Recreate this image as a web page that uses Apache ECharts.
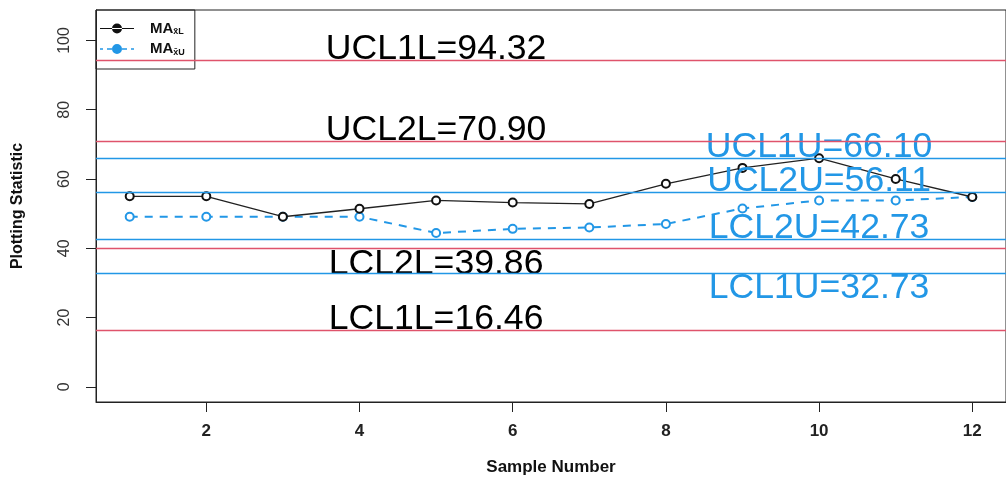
<!DOCTYPE html>
<html>
<head>
<meta charset="utf-8">
<script src="https://cdn.jsdelivr.net/npm/echarts@6/dist/echarts.min.js"></script>
<style>
  html, body { margin: 0; padding: 0; background: #fff; }
  #main { width: 1006px; height: 481px; }
</style>
</head>
<body>
<div id="main"></div>
<script>
// sample numbers and moving averages
var sampleNo = [1, 2, 3, 4, 5, 6, 7, 8, 9, 10, 11, 12];
var maL = [55.0, 55.0, 49.1, 51.4, 53.8, 53.2, 52.8, 58.6, 63.2, 66.0, 60.0, 54.8];
var maU = [49.1, 49.1, 49.1, 49.1, 44.4, 45.6, 46.0, 47.0, 51.5, 53.8, 53.8, 54.8];

// control limits
var limNamesL = ['UCL1L', 'UCL2L', 'LCL2L', 'LCL1L'];
var limValsL = [94.32, 70.90, 39.86, 16.46];
var limNamesU = ['UCL1U', 'UCL2U', 'LCL2U', 'LCL1U'];
var limValsU = [66.10, 56.11, 42.73, 32.73];

var xTicks = [2, 4, 6, 8, 10, 12];
var yTicks = [0, 20, 40, 60, 80, 100];

var RED = '#DF536B', BLUE = '#2297E6';
var FONT = '"Liberation Sans", Arial, sans-serif';
var belowLabels = ['LCL2L', 'LCL1U'];

function zip(xs, ys) {
  return xs.map(function (x, i) { return [x, ys[i]]; });
}

function limitLabels(names, vals, xAt, color) {
  return names.map(function (n, i) {
    var below = belowLabels.indexOf(n) >= 0;
    return {
      name: n,
      value: [xAt, vals[i]],
      label: {
        position: below ? 'bottom' : 'top',
        distance: 0,
        offset: below ? [0, -3] : [0, 7],
        color: color
      }
    };
  });
}

var chart = echarts.init(document.getElementById('main'), null, { renderer: 'canvas' });

var option = {
  backgroundColor: '#fff',
  animation: false,
  textStyle: { fontFamily: FONT },
  grid: {
    left: 96, top: 10, width: 916, height: 392,
    show: true, borderColor: '#222', borderWidth: 1, containLabel: false
  },
  legend: {
    left: 96, top: 10,
    orient: 'vertical',
    padding: [11, 10, 12, 4],
    itemGap: 5,
    itemWidth: 34, itemHeight: 10,
    borderColor: '#222', borderWidth: 1,
    backgroundColor: 'transparent',
    data: [
      { name: 'L', icon: 'path://M0,4.4h34v1.2h-34z M12,5a5,5 0 1,0 10,0a5,5 0 1,0 -10,0z' },
      { name: 'U', icon: 'path://M0,4.3h3v1.4h-3z M7,4.3h5v1.4h-5z M12,5a5,5 0 1,0 10,0a5,5 0 1,0 -10,0z M22,4.3h5v1.4h-5z M31,4.3h3v1.4h-3z' }
    ],
    itemStyle: { borderWidth: 0 },
    formatter: function (n) {
      return '{b|MA}{s|x\u0304' + n + '}';
    },
    textStyle: {
      rich: {
        b: { fontSize: 15, fontWeight: 'bold', color: '#111', padding: [0, 0, 0, 11], fontFamily: FONT },
        s: { fontSize: 9, fontWeight: 'bold', color: '#111', padding: [7, 0, 0, 0], fontFamily: FONT }
      }
    }
  },
  xAxis: {
    type: 'value',
    min: 0.56, max: 12.44,
    name: 'Sample Number',
    nameLocation: 'middle',
    nameGap: 57,
    nameTextStyle: { fontSize: 17, fontWeight: 'bold', color: '#111', fontFamily: FONT },
    axisLine: { show: true, onZero: false, lineStyle: { color: '#222' } },
    axisTick: { show: true, length: 10, customValues: xTicks, lineStyle: { color: '#222' } },
    axisLabel: { customValues: xTicks, margin: 21, fontSize: 17, fontWeight: 'bold', color: '#222', fontFamily: FONT },
    splitLine: { show: false }
  },
  yAxis: {
    type: 'value',
    min: -4.4, max: 108.8,
    name: 'Plotting Statistic',
    nameLocation: 'middle',
    nameGap: 70,
    nameTextStyle: { fontSize: 16, fontWeight: 'bold', color: '#111', fontFamily: FONT },
    axisLine: { show: true, onZero: false, lineStyle: { color: '#222' } },
    axisTick: { show: true, length: 10, customValues: yTicks, lineStyle: { color: '#222' } },
    axisLabel: { customValues: yTicks, rotate: 90, margin: 23, fontSize: 16, color: '#333', fontFamily: FONT },
    splitLine: { show: false }
  },
  series: [
    {
      name: 'L', type: 'line',
      data: zip(sampleNo, maL),
      symbol: 'emptyCircle', symbolSize: 8,
      color: '#111',
      lineStyle: { color: '#222', width: 1.3 },
      itemStyle: { color: '#111', borderWidth: 1.4 },
      markLine: {
        silent: true, symbol: 'none',
        label: { show: false },
        lineStyle: { color: RED, width: 1.4, type: 'solid' },
        data: limValsL.map(function (v) { return { yAxis: v }; })
      },
      z: 3
    },
    {
      name: 'U', type: 'line',
      data: zip(sampleNo, maU),
      symbol: 'emptyCircle', symbolSize: 8,
      color: BLUE,
      lineStyle: { color: BLUE, width: 2, type: [8, 7] },
      itemStyle: { color: BLUE, borderWidth: 1.4 },
      markLine: {
        silent: true, symbol: 'none',
        label: { show: false },
        lineStyle: { color: BLUE, width: 1.4, type: 'solid' },
        data: limValsU.map(function (v) { return { yAxis: v }; })
      },
      z: 2
    },
    {
      name: 'limitsL', type: 'scatter',
      symbolSize: 0,
      silent: true,
      itemStyle: { opacity: 1 },
      label: {
        show: true, fontSize: 35.6, fontFamily: FONT,
        formatter: function (p) { return p.name + '=' + p.value[1].toFixed(2); }
      },
      data: limitLabels(limNamesL, limValsL, 5, '#000'),
      z: 4
    },
    {
      name: 'limitsU', type: 'scatter',
      symbolSize: 0,
      silent: true,
      itemStyle: { opacity: 1 },
      label: {
        show: true, fontSize: 35.6, fontFamily: FONT,
        formatter: function (p) { return p.name + '=' + p.value[1].toFixed(2); }
      },
      data: limitLabels(limNamesU, limValsU, 10, BLUE),
      z: 4
    }
  ]
};

chart.setOption(option);
</script>
</body>
</html>
